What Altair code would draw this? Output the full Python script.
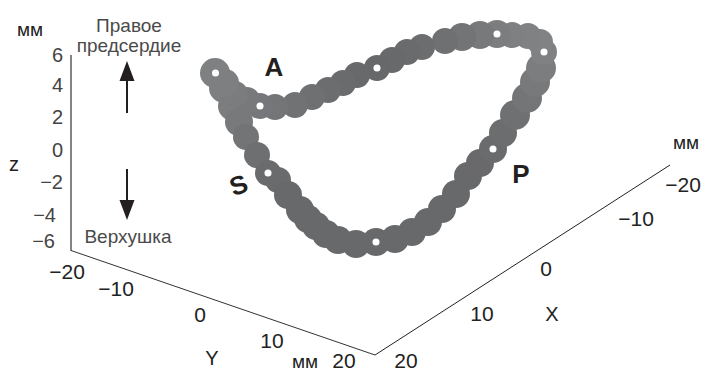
import altair as alt
import pandas as pd

# Tube centre line, in the picture's own pixel frame
tube_x = [215,224,233,239,246,257,268,278,288,300,308,316,326,338,356,376,395,412,428,442,456,468,480,493,503,515,527,535,541,544,540,528,512,497,480,462,445,422,407,392,377,357,343,328,312,295,275,260,247,235,225]
tube_y = [73,88,106,122,137,155,173,180,195,210,219,226,234,240,244,242,239,232,222,209,194,176,163,149,133,115,98,82,68,52,42,36,35,34,35,37,41,47,52,60,68,75,83,90,97,105,107,106,100,94,83]
tube_r = [15,15,15,14,13,13,13,13,14,14,14,14,14,14,14,14,14,14,14,14,14,14,14,14,14,15,15,15,15,13,13,13,13,14,14,14,13,13,13,13,13,13,13,13,13,13,13,13,13,13,14]
tube_c = ["#7f8082","#7e7f81","#7c7d7f","#78797b","#737476","#6e6f71","#6a6b6d","#6a6b6d","#68696b","#68696b","#68696b","#68696b","#68696b","#68696b","#68696b","#68696b","#68696b","#68696b","#68696b","#68696b","#68696b","#68696b","#69696b","#6a6b6d","#6c6d6f","#6f7072","#747577","#78797b","#7c7d7f","#808183","#818284","#808183","#7f8082","#7c7d7f","#78797b","#737476","#6f7072","#6c6d6f","#6a6b6d","#68696b","#67686a","#68696b","#6a6b6d","#6c6d6f","#6f7072","#717274","#747577","#76777a","#78797b","#7b7c7e","#7e7f81"]

dot_x = [215.5, 260, 268, 376, 377, 493, 497, 544]
dot_y = [73, 106, 173, 242, 68, 149, 34, 52]

z_ticks = ["6", "4", "2", "0", "−2", "−4", "−6"]
z_x = [63, 63, 63, 63, 63, 56, 55]
z_y = [56, 86, 118, 151, 183, 216, 242]

y_ticks = ["−20", "−10", "0", "10", "20"]
y_x = [67, 116, 200, 272, 344]
y_y = [273, 290, 316, 342, 362]

x_ticks = ["20", "10", "0", "−10", "−20"]
x_x = [406, 482, 546, 636, 683]
x_y = [362, 315, 270, 220, 186]

names = ["Y", "X", "z"]
names_x = [212, 552, 14]
names_y = [359, 315, 165]

units = ["мм", "мм", "мм"]
units_x = [30, 305, 686]
units_y = [30, 362, 143]

notes = ["Правое", "предсердие", "Верхушка"]
notes_x = [129, 129, 128]
notes_y = [26, 46, 237]

letters = ["A", "P"]
letters_x = [274, 521]
letters_y = [68, 175]

x_scale = alt.Scale(domain=[8, 702], nice=False, zero=False)
y_scale = alt.Scale(domain=[371, 8], nice=False, zero=False)
X = alt.X("x:Q", scale=x_scale, axis=None)
Y = alt.Y("y:Q", scale=y_scale, axis=None)


def text_layer(labels, xs, ys, **mark):
    df = pd.DataFrame({"x": xs, "y": ys, "t": labels})
    return alt.Chart(df).mark_text(baseline="middle", font="Liberation Sans", **mark).encode(x=X, y=Y, text="t:N")


def line_layer(xs, ys, color, width):
    df = pd.DataFrame({"x": xs, "y": ys, "i": range(len(xs))})
    return alt.Chart(df).mark_line(color=color, strokeWidth=width, clip=False).encode(x=X, y=Y, order="i:Q")


tube = pd.DataFrame({"x": tube_x, "y": tube_y, "c": tube_c,
                     "s": [4 * r * r for r in tube_r], "i": range(len(tube_x))})
tube_layer = alt.Chart(tube).mark_circle(opacity=1).encode(
    x=X, y=Y,
    color=alt.Color("c:N", scale=None),
    size=alt.Size("s:Q", scale=None),
    order="i:Q",
)
dots_layer = alt.Chart(pd.DataFrame({"x": dot_x, "y": dot_y})).mark_circle(
    color="white", size=50, opacity=1).encode(x=X, y=Y)

arrow_x = [127, 127]
head_y = [71, 210]
up = alt.Chart(pd.DataFrame({"x": [arrow_x[0]], "y": [head_y[0]]})).mark_point(
    shape="M0,-1L-0.75,1L0.75,1Z", size=400, filled=True, color="#231f20", opacity=1, strokeWidth=0).encode(x=X, y=Y)
down = alt.Chart(pd.DataFrame({"x": [arrow_x[1]], "y": [head_y[1]]})).mark_point(
    shape="M0,1L-0.75,-1L0.75,-1Z", size=400, filled=True, color="#231f20", opacity=1, strokeWidth=0).encode(x=X, y=Y)

layers = [
    line_layer([71, 71], [55, 251], "#666666", 1.6),
    line_layer([71, 375], [250.5, 355], "#333333", 1),
    line_layer([375, 670], [355, 165], "#222222", 1),
    line_layer([127, 127], [113, 78], "#231f20", 2),
    line_layer([127, 127], [169, 202], "#231f20", 2),
    up, down,
    tube_layer, dots_layer,
    text_layer(z_ticks, z_x, z_y, align="right", fontSize=20, color="#444444"),
    text_layer(y_ticks, y_x, y_y, align="center", fontSize=21, color="#222222"),
    text_layer(x_ticks, x_x, x_y, align="center", fontSize=21, color="#222222"),
    text_layer(names, names_x, names_y, align="center", fontSize=20, color="#222222"),
    text_layer(units, units_x, units_y, align="center", fontSize=19, color="#222222"),
    text_layer(notes, notes_x, notes_y, align="center", fontSize=19, color="#4a4a4a"),
    text_layer(letters, letters_x, letters_y, align="center", fontSize=26, fontWeight="bold", color="#231f20"),
    text_layer(["S"], [239], [186], align="center", fontSize=26, fontWeight="bold", color="#231f20", angle=340),
]

chart = alt.layer(*layers).properties(
    width=694, height=363, padding=0, background="white",
    autosize=alt.AutoSizeParams(type="none"),
).configure_view(stroke=None)

chart.save("out.html", embed_options={"renderer": "svg", "actions": False})
